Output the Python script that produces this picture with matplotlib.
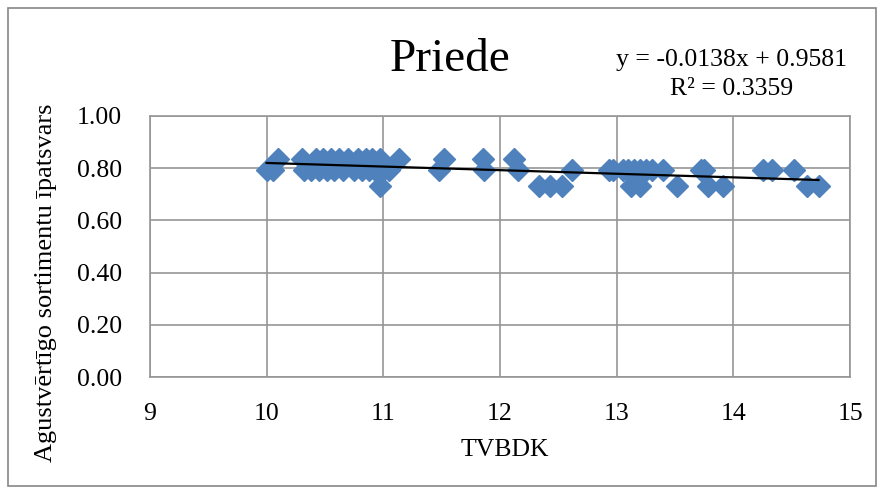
import numpy as np
import matplotlib
matplotlib.use("Agg")
import matplotlib.pyplot as plt
from matplotlib.patches import Rectangle

plt.rcParams['font.family'] = ['Liberation Serif', 'DejaVu Serif']

# TVBDK values and share of high-value assortments
tvbdk = [10.00, 10.05, 10.10, 10.30, 10.32, 10.38, 10.42, 10.45, 10.48, 10.52, 10.55,
         10.58, 10.62, 10.65, 10.70, 10.75, 10.78, 10.82, 10.85, 10.88, 10.90, 10.93,
         10.97, 11.00, 11.05, 11.13, 10.97,
         11.48, 11.52, 11.85, 11.86, 12.12, 12.15,
         12.33, 12.43, 12.53, 12.62,
         12.93, 12.97, 13.05, 13.10, 13.15, 13.20, 13.25, 13.30, 13.40,
         13.12, 13.20, 13.52,
         13.72, 13.75, 13.78, 13.91,
         14.25, 14.33, 14.52, 14.63, 14.73]
share = [0.795, 0.795, 0.835, 0.835, 0.795, 0.795, 0.835, 0.795, 0.835, 0.795, 0.835,
         0.795, 0.835, 0.795, 0.835, 0.795, 0.835, 0.795, 0.835, 0.795, 0.835, 0.795,
         0.835, 0.795, 0.795, 0.835, 0.73,
         0.795, 0.835, 0.835, 0.795, 0.835, 0.795,
         0.73, 0.73, 0.73, 0.795,
         0.795, 0.795, 0.795, 0.795, 0.795, 0.795, 0.795, 0.795, 0.795,
         0.73, 0.73, 0.73,
         0.795, 0.795, 0.73, 0.73,
         0.795, 0.795, 0.795, 0.73, 0.73]

slope = -0.0138
intercept = 0.9581
r2 = 0.3359

fig = plt.figure(figsize=(8.82, 4.92), dpi=100)
ax = fig.add_axes([150/882, 1 - 377/492, 700/882, 261/492])

ax.set_xlim(9, 15)
ax.set_ylim(0, 1)
ax.set_xticks(np.arange(9, 16, 1))
ax.set_yticks(np.arange(0, 1.01, 0.2))
ax.set_yticklabels(['%.2f' % v for v in np.arange(0, 1.01, 0.2)])
ax.grid(True, color='#969696', linewidth=1.2)
ax.set_axisbelow(True)
for s in ax.spines.values():
    s.set_color('#969696')
    s.set_linewidth(1.2)
ax.tick_params(length=0, labelsize=18.5)
ax.tick_params(axis='x', pad=19)
ax.tick_params(axis='y', pad=20)

ax.plot(tvbdk, share, linestyle='none', marker='D', markersize=11,
        color='#4F81BD', markeredgecolor='#4F81BD', zorder=3)

xs = np.array([min(tvbdk), max(tvbdk)])
ax.plot(xs, slope * xs + intercept, color='black', linewidth=1.6, zorder=4)

fig.text(450/882, 1 - 60/492, 'Priede', fontsize=34, ha='center', va='center')
fig.text(732/882, 1 - 60/492, 'y = %.4fx + %.4f' % (slope, intercept),
         fontsize=18.5, ha='center', va='center')
fig.text(732/882, 1 - 89/492, 'R² = %.4f' % r2, fontsize=18.5, ha='center', va='center')
fig.text(505/882, 1 - 450/492, 'TVBDK', fontsize=18.5, ha='center', va='center')
fig.text(46/882, 1 - 283/492, 'Agustvērtīgo sortimentu īpatsvars', fontsize=19,
         rotation=90, ha='center', va='center')

fig.patches.append(Rectangle((8/882, 1 - 486/492), 868/882, 478/492,
                             transform=fig.transFigure, fill=False,
                             edgecolor='#868686', linewidth=1.2))

fig.savefig('out.png', dpi=100)
